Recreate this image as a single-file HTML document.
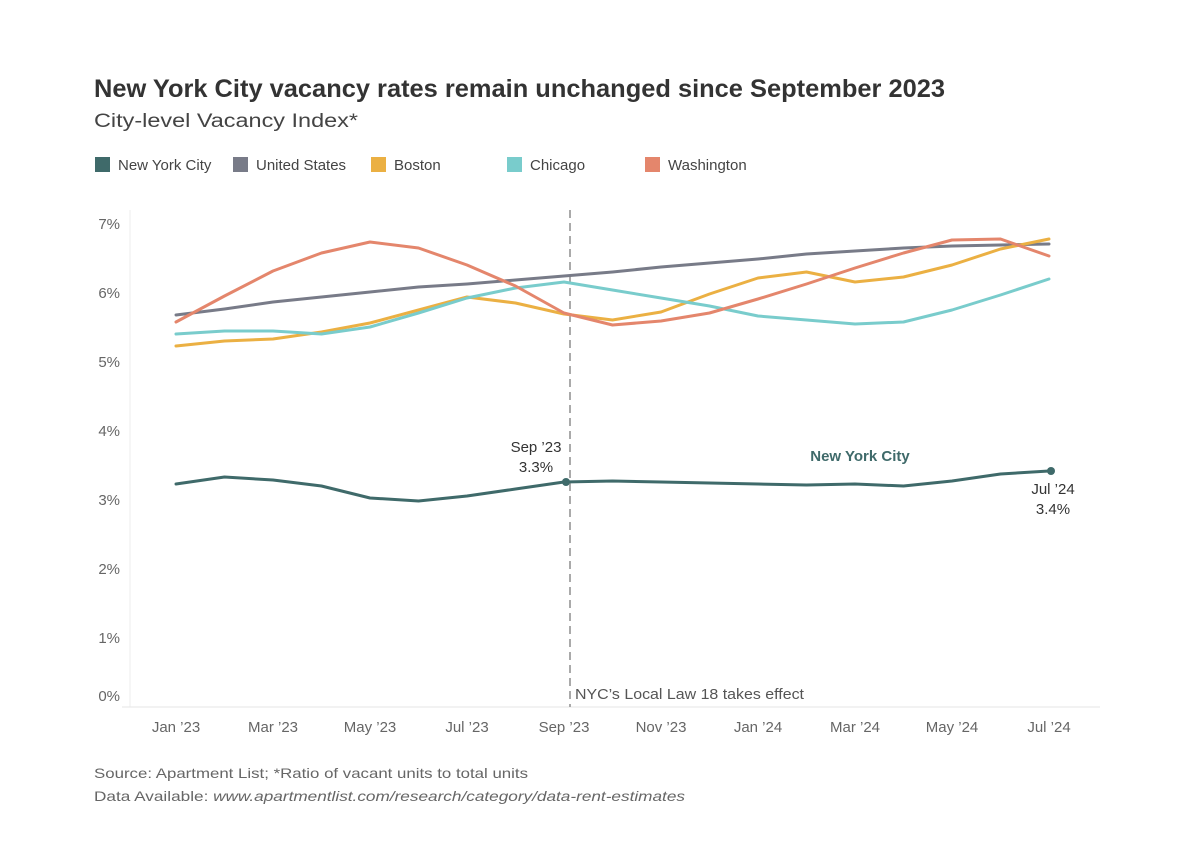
<!DOCTYPE html><html><head><style>body{margin:0;background:#fff}svg text{font-family:"Liberation Sans",sans-serif}</style></head><body>
<svg width="1188" height="858" xmlns="http://www.w3.org/2000/svg">
<text x="94" y="97" font-size="25" font-weight="bold" fill="#333" textLength="851" lengthAdjust="spacingAndGlyphs">New York City vacancy rates remain unchanged since September 2023</text>
<text x="94" y="127" font-size="19" fill="#444" textLength="264" lengthAdjust="spacingAndGlyphs">City-level Vacancy Index*</text>
<g font-size="15" fill="#444">
<rect x="95" y="157" width="15" height="15" fill="#3f6a6a"/><text x="118" y="170">New York City</text>
<rect x="233" y="157" width="15" height="15" fill="#787b88"/><text x="256" y="170">United States</text>
<rect x="371" y="157" width="15" height="15" fill="#ebb043"/><text x="394" y="170">Boston</text>
<rect x="507" y="157" width="15" height="15" fill="#79cccc"/><text x="530" y="170">Chicago</text>
<rect x="645" y="157" width="15" height="15" fill="#e4866c"/><text x="668" y="170">Washington</text>
</g>
<line x1="130" y1="210" x2="130" y2="707" stroke="#eee"/>
<line x1="122" y1="707" x2="1100" y2="707" stroke="#e6e6e6"/>
<g font-size="15" fill="#666" text-anchor="end">
<text x="120" y="229">7%</text><text x="120" y="298">6%</text><text x="120" y="367">5%</text><text x="120" y="436">4%</text><text x="120" y="505">3%</text><text x="120" y="574">2%</text><text x="120" y="643">1%</text><text x="120" y="701">0%</text>
</g>
<g font-size="15" fill="#666" text-anchor="middle">
<text x="176" y="732">Jan ’23</text><text x="273" y="732">Mar ’23</text><text x="370" y="732">May ’23</text><text x="467" y="732">Jul ’23</text><text x="564" y="732">Sep ’23</text><text x="661" y="732">Nov ’23</text><text x="758" y="732">Jan ’24</text><text x="855" y="732">Mar ’24</text><text x="952" y="732">May ’24</text><text x="1049" y="732">Jul ’24</text>
</g>
<line x1="570" y1="210" x2="570" y2="707" stroke="#aaa" stroke-width="2" stroke-dasharray="8,5"/>
<text x="575" y="699" font-size="15" fill="#555" textLength="229" lengthAdjust="spacingAndGlyphs">NYC’s Local Law 18 takes effect</text>
<g fill="none" stroke-width="3" stroke-linejoin="round" stroke-linecap="round">
<polyline stroke="#787b88" points="176,315 224.5,309 273,302 321.5,297 370,292 418.5,287 467,284 515.5,280 564,276 612.5,272 661,267 709.5,263 758,259 806.5,254 855,251 903.5,248 952,246 1000.5,245 1049,244"/>
<polyline stroke="#ebb043" points="176,346 224.5,341 273,339 321.5,332 370,323 418.5,310 467,297 515.5,303 564,314 612.5,320 661,312 709.5,294 758,278 806.5,272 855,282 903.5,277 952,265 1000.5,249 1049,239"/>
<polyline stroke="#79cccc" points="176,334 224.5,331 273,331 321.5,334 370,327 418.5,313 467,298 515.5,288 564,282 612.5,290 661,298 709.5,306 758,316 806.5,320 855,324 903.5,322 952,310 1000.5,295 1049,279"/>
<polyline stroke="#e4866c" points="176,322 224.5,296 273,271 321.5,253 370,242 418.5,248 467,265 515.5,286 564,313 612.5,325 661,321 709.5,313 758,299 806.5,284 855,268 903.5,253 952,240 1000.5,239 1049,256"/>
<polyline stroke="#3f6a6a" points="176,484 224.5,477 273,480 321.5,486 370,498 418.5,501 467,496 515.5,489 564,482 612.5,481 661,482 709.5,483 758,484 806.5,485 855,484 903.5,486 952,481 1000.5,474 1049,471"/>
</g>
<circle cx="566" cy="482" r="4" fill="#3f6a6a"/><circle cx="1051" cy="471" r="4" fill="#3f6a6a"/>
<g font-size="15" fill="#333" text-anchor="middle">
<text x="536" y="452">Sep ’23</text><text x="536" y="472">3.3%</text>
<text x="1053" y="494">Jul ’24</text><text x="1053" y="514">3.4%</text>
</g>
<text x="860" y="461" font-size="15" font-weight="bold" fill="#3f6a6a" text-anchor="middle">New York City</text>
<text x="94" y="778" font-size="14" fill="#666" textLength="434" lengthAdjust="spacingAndGlyphs">Source: Apartment List; *Ratio of vacant units to total units</text>
<text x="94" y="801" font-size="14" fill="#666" textLength="591" lengthAdjust="spacingAndGlyphs">Data Available: <tspan font-style="italic">www.apartmentlist.com/research/category/data-rent-estimates</tspan></text>
</svg></body></html>
